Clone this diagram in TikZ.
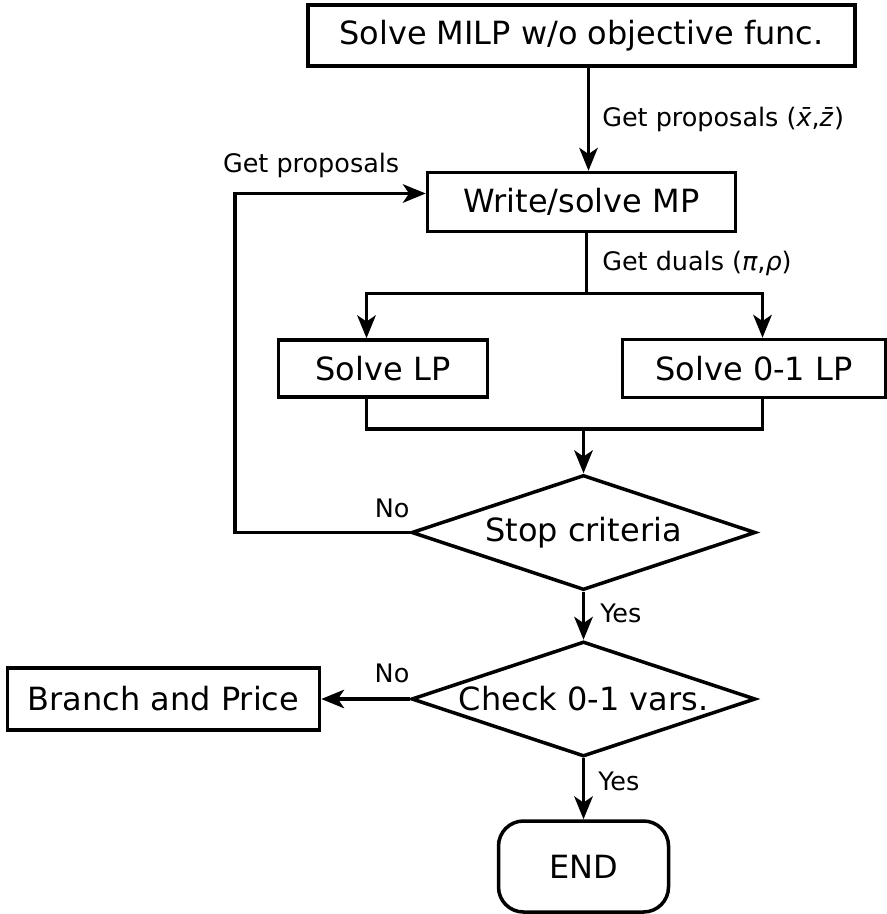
\documentclass[tikz,border=0pt]{standalone}
\usepackage{fontspec}
\setmainfont{DejaVu Sans}
\usetikzlibrary{shapes.geometric, arrows.meta}

\begin{document}
\begin{tikzpicture}[node distance=3.33cm, line width=2pt, >={Stealth[length=13pt, width=10.5pt, inset=3.5pt]}]
    \tikzstyle{process} = [rectangle, draw=black, text centered, inner sep=0pt, font=\fontsize{18.2}{22}\selectfont]
    \tikzstyle{decision} = [diamond, draw=black, inner sep=0pt, minimum width=6.88cm, minimum height=2.3cm, font=\fontsize{18.2}{22}\selectfont]
    \tikzstyle{terminal} = [rectangle, rounded corners=0.5cm, draw=black, minimum width=3.4cm, minimum height=1.82cm, font=\fontsize{18.2}{22}\selectfont]
    \tikzstyle{tag} = [inner sep=0pt, font=\fontsize{14.5}{17}\selectfont]

    \path [use as bounding box, fill=white] (0,0) rectangle (17.72,-18.28);

    % Proposals and master problem
    \node [process, minimum width=10.94cm, minimum height=1.22cm] (milp) at (11.63,-0.71) {Solve MILP w/o objective func.};
    \node [process, minimum width=6.16cm, minimum height=1.18cm, below of=milp] (mp) {Write/solve MP};

    % Pricing problems
    \node [process, minimum width=4.18cm, minimum height=1.14cm, below of=mp, xshift=-3.97cm] (lp) {Solve LP};
    \node [process, minimum width=5.26cm, minimum height=1.16cm, below of=mp, xshift=3.45cm] (zlp) {Solve 0-1 LP};

    % Decisions
    \node [decision, below of=mp, yshift=-3.28cm, xshift=0.04cm] (stop) {\makebox[0pt]{Stop criteria}};
    \node [decision, below of=stop] (check) {\makebox[0pt]{Check 0-1 vars.}};
    \node [process, minimum width=6.24cm, minimum height=1.24cm, left of=check, xshift=-5.07cm] (bp) {Branch and Price};
    \node [terminal, below of=check, yshift=-0.02cm] (end) {END};

    % Connections
    \coordinate (split) at ([xshift=0.1cm, yshift=-1.2cm]mp.south);
    \coordinate (merge) at ([yshift=0.88cm]stop.north);
    \coordinate (back) at ([xshift=-3.5cm]stop.west);

    \draw [->] ([xshift=0.14cm]milp.south) -- node [tag, right, xshift=0.24cm] (gpxz) {Get proposals (\textit{x̄},\textit{z̄})} ([xshift=0.14cm]mp.north);
    \draw ([xshift=0.1cm]mp.south) -- node [tag, right, xshift=0.28cm] (gd) {Get duals (\textit{π},\textit{ρ})} (split);
    \draw [->] (split) -| ([xshift=-0.33cm]lp.north);
    \draw [->] (split) -| ([xshift=0.17cm]zlp.north);

    \draw ([xshift=-0.33cm]lp.south) |- (merge);
    \draw ([xshift=0.17cm]zlp.south) |- (merge);
    \draw [->] (merge) -- (stop.north);

    % Feedback loop
    \draw [->] (stop.west) -- node [tag, above, pos=0.1, yshift=0.26cm] (no1) {No} (back) |- node [tag, above, pos=0.7, yshift=0.28cm] (gp) {Get proposals} ([yshift=0.17cm]mp.west);

    \draw [->] (stop.south) -- node [tag, right, pos=0.45, xshift=0.3cm] (yes1) {Yes} (check.north);
    \draw [->] (check.west) -- node [tag, above, pos=0.2, yshift=0.28cm] (no2) {No} (bp.east);
    \draw [->] (check.south) -- node [tag, right, pos=0.38, xshift=0.26cm] (yes2) {Yes} (end.north);
\end{tikzpicture}
\end{document}
